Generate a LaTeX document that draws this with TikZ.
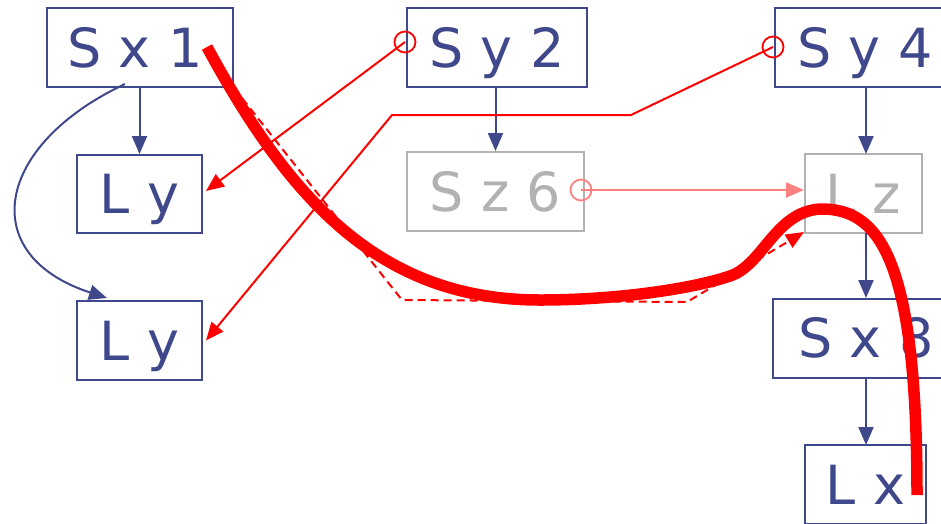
\documentclass[tikz,border=0pt]{standalone}
\usepackage{fontspec}
\setmainfont{DejaVu Sans}
\usetikzlibrary{arrows.meta}
\definecolor{navy}{RGB}{64,72,140}
\definecolor{ghost}{RGB}{178,178,178}
\definecolor{pinkred}{RGB}{255,128,128}
\begin{document}
\begin{tikzpicture}[x=1pt,y=-1pt,
  box/.style={draw=navy,text=navy,line width=2pt,inner sep=0pt,
    font=\fontsize{54}{54}\selectfont,text height=39pt,text depth=0pt},
  gbox/.style={box,draw=ghost,text=ghost},
  tip/.style={-{Triangle[length=18pt,width=15pt]}},
  blue/.style={tip,draw=navy,line width=2pt},
  redln/.style={tip,draw=red,line width=2pt},
  ring/.style={circle,draw,line width=1.8pt,minimum size=21pt,inner sep=0pt}]
\useasboundingbox (0,0) rectangle (941,523);
\clip (0,0) rectangle (941,523);
% nodes
\node[box,minimum width=186pt,minimum height=79pt] (Sx1) at (140,47.5) {S x 1\kern10pt};
\node[box,minimum width=125pt,minimum height=78pt] (Ly1) at (139.5,194) {L y};
\node[box,minimum width=125pt,minimum height=79pt] (Ly2) at (139.5,340.5) {L y};
\node[box,minimum width=180pt,minimum height=79pt] (Sy2) at (497,47.5) {S y 2};
\node[gbox,minimum width=177pt,minimum height=79pt] (Sz6) at (495.5,191.5) {S z 6};
\node[box,minimum width=180pt,minimum height=79pt] (Sy4) at (865,47.5) {S y 4};
\node[gbox,minimum width=117pt,minimum height=79pt] (Lz) at (863.5,193.5) {L z};
\node[box,minimum width=186pt,minimum height=79pt] (Sx8) at (866,338) {S x 8};
\node[box,minimum width=121pt,minimum height=79pt] (Lx) at (865.5,484.5) {L x};
% blue connectors
\draw[blue] (Sx1.south -| Ly1.north) -- (Ly1.north);
\draw[blue] (125,84) .. controls (-5,145) and (-25,255) .. (107,298);
\draw[blue] (Sy2.south -| Sz6.north) -- (Sz6.north);
\draw[blue] (Sy4.south -| 866,0) -- (866,154);
\draw[blue] (866,233) -- (866,298);
\draw[blue] (866,378) -- (866,445);
% red rings and lines
\node[ring,draw=red] (c2) at (405,42) {};
\node[ring,draw=red] (c4) at (773,47) {};
\node[ring,draw=pinkred] (c6) at (581,190) {};
\draw[redln] (c2.center) -- ([xshift=3pt,yshift=3pt]Ly1.east);
\draw[redln] (c4.center) -- (631,115) -- (392,115) -- ([xshift=3pt]Ly2.east);
\draw[tip,draw=pinkred,fill=pinkred,line width=2pt] (c6.center) -- (Lz.west |- c6.center);
% dashed path
\draw[redln,dash pattern=on 8pt off 5pt] (Sx1.south east) -- (402,300) -- (687,302) -- ([yshift=2pt]Lz.south west);
% thick stroke
\draw[red,line width=11.5pt,line cap=butt,line join=round]
  (207,47) .. controls (290,200) and (380,300) .. (540,300)
  .. controls (620,300) and (695,288) .. (730,276)
  .. controls (763,265) and (775,212) .. (820,209)
  .. controls (880,208) and (917,260) .. (917,495);
\end{tikzpicture}
\end{document}
